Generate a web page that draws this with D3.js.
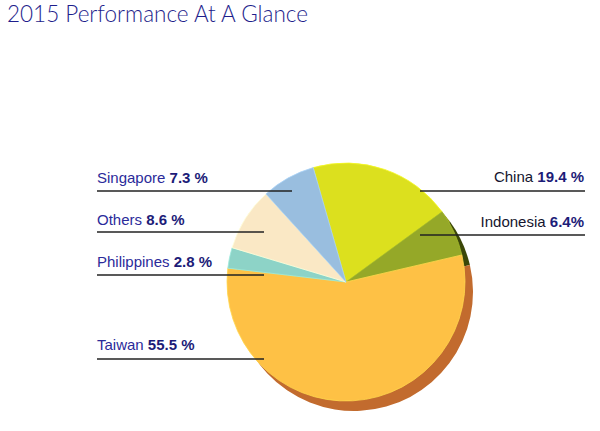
<!DOCTYPE html>
<html><head><meta charset="utf-8">
<script src="https://cdn.jsdelivr.net/npm/d3@7"></script>
<style>body{margin:0;background:#fff}svg{display:block}</style>
</head><body>
<svg id="c" width="600" height="431"></svg>
<script>
const categories = ["China","Indonesia","Taiwan","Philippines","Others","Singapore"];
const values = [19.4, 6.4, 55.5, 2.8, 8.6, 7.3];
const valueLabels = ["19.4 %","6.4%","55.5 %","2.8 %","8.6 %","7.3 %"];
const colors = ["#dce01e","#95a828","#fec145","#8dd3c7","#fae8c5","#99bedf"];
const shadowColors = ["#8a8c10","#3b4708","#c26b2e","#5a8f86","#b8a27a","#5f7fa0"];

const svg = d3.select("#c");
const cx = 346, cy = 282, r = 119;
const sdx = 8, sdy = 10;

svg.append("text").attr("x",7).attr("y",22)
  .attr("font-family","Lato").attr("font-weight",300).attr("font-size",22.5)
  .attr("fill","#1e1e8c").text("2015 Performance At A Glance");

const pie = d3.pie().sort(null).value(d=>d).startAngle(-16*Math.PI/180).endAngle((360-16)*Math.PI/180);
const arcs = pie(values);
const arc = d3.arc().innerRadius(0).outerRadius(r);

const gs = svg.append("g").attr("transform",`translate(${cx+sdx},${cy+sdy})`);
gs.selectAll("path").data(arcs).join("path").attr("d",arc).attr("fill",(d,i)=>shadowColors[i]);

const g = svg.append("g").attr("transform",`translate(${cx},${cy})`);
g.selectAll("path").data(arcs).join("path").attr("d",arc)
  .attr("fill",(d,i)=>colors[i]).attr("stroke",(d,i)=>d3.color(colors[i]).brighter(0.3)).attr("stroke-width",0.8);

// label layout (positions only)
const layout = {
  China:      {side:"R", ty:182, ly:191, x0:420},
  Indonesia:  {side:"R", ty:227, ly:235, x0:420},
  Taiwan:     {side:"L", ty:350, ly:359, x1:264},
  Philippines:{side:"L", ty:267, ly:275, x1:264},
  Others:     {side:"L", ty:225, ly:232, x1:264},
  Singapore:  {side:"L", ty:183, ly:191, x1:292}
};
categories.forEach((c,i)=>{
  const L = layout[c];
  if (L.side==="L") {
    svg.append("line").attr("x1",97).attr("x2",L.x1).attr("y1",L.ly).attr("y2",L.ly)
      .attr("stroke","#222").attr("stroke-width",1.4);
    const t = svg.append("text").attr("x",97).attr("y",L.ty)
      .attr("font-family","Liberation Sans, Arial").attr("font-size",15);
    t.append("tspan").attr("fill","#2b2b9a").text(c+" ");
    t.append("tspan").attr("fill","#1c1c78").attr("font-weight","bold").text(valueLabels[i]);
  } else {
    svg.append("line").attr("x1",L.x0).attr("x2",585).attr("y1",L.ly).attr("y2",L.ly)
      .attr("stroke","#222").attr("stroke-width",1.4);
    const t = svg.append("text").attr("x",584).attr("y",L.ty).attr("text-anchor","end")
      .attr("font-family","Liberation Sans, Arial").attr("font-size",15);
    t.append("tspan").attr("fill","#15152e").text(c+" ");
    t.append("tspan").attr("fill","#1c1c78").attr("font-weight","bold").text(valueLabels[i]);
  }
});
</script>
</body></html>
